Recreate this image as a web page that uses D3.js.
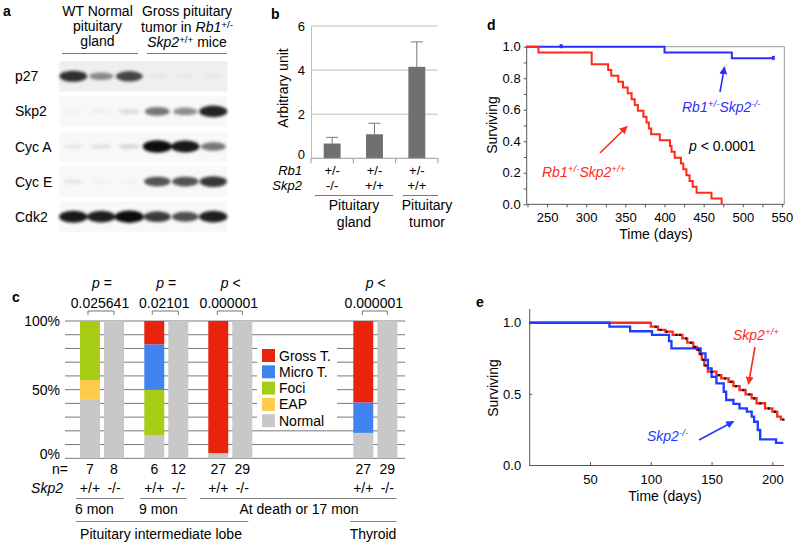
<!DOCTYPE html>
<html><head><meta charset="utf-8">
<script src="https://cdn.jsdelivr.net/npm/d3@7"></script>
<style>body{margin:0;background:#fff} svg{font-family:"Liberation Sans",Arial,Helvetica,sans-serif}</style>
</head><body><svg id="fig" width="800" height="550"></svg>
<script>
// ================= DATA =================
// panel a: western blot band intensities (0..1)
const blotRows = ["p27","Skp2","Cyc A","Cyc E","Cdk2"];
const blotLanes = ["WT1","WT2","WT3","T1","T2","T3"];
const blotP27  = [0.85,0.45,0.75,0.04,0.03,0.03];
const blotSkp2 = [0.03,0.04,0.12,0.55,0.45,0.9];
const blotCycA = [0.07,0.1,0.14,1.0,0.95,0.55];
const blotCycE = [0.08,0.03,0.03,0.7,0.7,0.82];
const blotCdk2 = [0.95,0.92,1.0,0.8,0.72,0.92];
const blotBg   = [0.12,0.06,0.06,0.06,0.06];

// panel b
const bGroups = ["g1","g2","g3"];
const bRb1 = ["+/-","+/-","+/-"];
const bSkp2 = ["-/-","+/+","+/+"];
const bValues = [0.67,1.09,4.15];
const bErrors = [0.28,0.5,1.13];
const bTicks = [0,2,4,6];

// panel c
const cGroups = ["6 mon","6 mon","9 mon","9 mon","death","death","Thyroid","Thyroid"];
const cGeno = ["+/+","-/-","+/+","-/-","+/+","-/-","+/+","-/-"];
const cN = [7,8,6,12,27,29,27,29];
const cNormal = [0.43,1,0.17,1,0.037,1,0.185,1];
const cEAP    = [0.14,0,0,0,0,0,0,0];
const cFoci   = [0.43,0,0.33,0,0,0,0,0];
const cMicro  = [0,0,0.33,0,0,0,0.222,0];
const cGross  = [0,0,0.17,0,0.963,0,0.593,0];
const cCats = ["Gross T.","Micro T.","Foci","EAP","Normal"];
const cColors = ["#e8240c","#3f82f0","#a6cc16","#ffcb4a","#c8c8c8"];
const cPGroups = ["6 mon","9 mon","death","Thyroid"];
const cPRel = ["=","=","<","<"];
const cPVal = ["0.025641","0.02101","0.000001","0.000001"];
const cYTicks = [0,0.5,1];

// panel d: Kaplan-Meier (days, surviving)
const dRedDays = [223,239,307,328,332,341,347,353,358,362,366,373,377,380,383,394,407,409,413,421,424,428,432,436,441,460,473];
const dRedSurv = [1.0,0.963,0.889,0.852,0.815,0.778,0.741,0.704,0.667,0.630,0.593,0.556,0.519,0.481,0.444,0.407,0.370,0.333,0.296,0.259,0.222,0.185,0.148,0.111,0.074,0.037,0.0];
const dBlueDays = [223,400,486,539];
const dBlueSurv = [1.0,0.963,0.926,0.926];
const dBlueCensor = [268,539];
const dXTicks = [250,300,350,400,450,500,550];
const dYTicks = [0,0.2,0.4,0.6,0.8,1.0];

// panel e
const eRedDays = [0,100,106,112,118,126,130,135,138,140,142,144,147,154,158,164,168,173,178,183,187,194,200,204,207,209];
const eRedSurv = [1.0,0.972,0.95,0.937,0.915,0.89,0.86,0.83,0.81,0.78,0.74,0.70,0.656,0.632,0.609,0.585,0.555,0.527,0.497,0.469,0.434,0.398,0.375,0.34,0.32,0.32];
const eBlueDays = [0,66,83,101,115,117,141,145,147,150,154,160,162,168,173,179,183,185,188,190,203,209];
const eBlueSurv = [1.0,0.972,0.94,0.914,0.87,0.82,0.785,0.738,0.679,0.62,0.574,0.515,0.457,0.429,0.398,0.375,0.34,0.304,0.246,0.18,0.155,0.155];
const eRedCensor = [104,108,113,121,124,129,133,136,139,141,143,145,150,156,161,166,170,176,181,185,190,197,202,209];
const eXTicks = [50,100,150,200];
const eYTicks = [0,0.5,1.0];

// ================= DRAW =================
const svg = d3.select("#fig");
const defs = svg.append("defs");
defs.append("filter").attr("id","blur").attr("x","-50%").attr("y","-80%").attr("width","200%").attr("height","260%")
  .append("feGaussianBlur").attr("stdDeviation",1.6);
function marker(id, color){
  defs.append("marker").attr("id",id).attr("viewBox","0 0 10 10").attr("refX",9).attr("refY",5)
    .attr("markerWidth",5).attr("markerHeight",5).attr("orient","auto")
    .append("path").attr("d","M0,0 L10,5 L0,10 z").attr("fill",color);
}
const RED = "#ff2a17", BLUE = "#2d2dff", BLUE2 = "#1f3cff";
marker("arR", RED); marker("arB", BLUE); marker("arB2", BLUE2);

function rich(g, x, y, parts, o){
  const size = o.size || 13;
  const sh = o.shift || 0.33;
  const t = g.append("text").attr("x",x).attr("y",y).attr("font-size",size)
    .attr("fill",o.fill||"#000").attr("text-anchor",o.anchor||"start");
  let up = false;
  parts.forEach(p=>{
    const s = t.append("tspan").text(p.t);
    if (p.i) s.attr("font-style","italic");
    if (p.sup){ s.attr("font-size",size*0.7); if(!up){ s.attr("dy",-size*sh); up=true; } }
    else if (up){ s.attr("dy",size*sh); up=false; }
  });
  return t;
}
function txt(g,x,y,s,o={}){
  return g.append("text").attr("x",x).attr("y",y).attr("font-size",o.size||13)
    .attr("text-anchor",o.anchor||"start").attr("fill",o.fill||"#000")
    .attr("font-style",o.italic?"italic":null).attr("font-weight",o.bold?"bold":null).text(s);
}

// ---------- panel a ----------
{
  const g = svg.append("g");
  txt(g,3,16,"a",{size:14,bold:true});
  [["WT Normal",16],["pituitary",31],["gland",46]].forEach(d=>txt(g,97.5,d[1],d[0],{size:14,anchor:"middle"}));
  txt(g,187,16,"Gross pituitary",{size:14,anchor:"middle"});
  rich(g,187,31.5,[{t:"tumor in "},{t:"Rb1",i:true},{t:"+/-",sup:true}],{size:14,anchor:"middle",shift:0.28});
  rich(g,187,46.5,[{t:"Skp2",i:true},{t:"+/+",sup:true},{t:" mice"}],{size:14,anchor:"middle",shift:0.28});
  g.append("line").attr("x1",62).attr("x2",138).attr("y1",53.5).attr("y2",53.5).attr("stroke","#777");
  g.append("line").attr("x1",147).attr("x2",227).attr("y1",53.5).attr("y2",53.5).attr("stroke","#777");

  const lane = d3.scaleBand().domain(blotLanes).range([59.3,227.3]);
  const row = d3.scaleBand().domain(blotRows).range([61,232]).paddingInner(0.13);
  const rowsData = [blotP27,blotSkp2,blotCycA,blotCycE,blotCdk2];
  blotRows.forEach((r,i)=>{
    g.append("rect").attr("x",lane.range()[0]).attr("y",row(r)).attr("width",lane.range()[1]-lane.range()[0])
      .attr("height",row.bandwidth()).attr("fill",d3.interpolateGreys(blotBg[i]));
    txt(g,15,row(r)+row.bandwidth()/2+5,r,{size:14});
    const cy = row(r)+row.bandwidth()/2;
    g.append("g").attr("filter","url(#blur)").selectAll("ellipse").data(rowsData[i]).join("ellipse")
      .attr("cx",(d,j)=>lane(blotLanes[j])+lane.bandwidth()/2)
      .attr("cy",cy)
      .attr("rx",d=>10+4.5*d).attr("ry",d=>2+4.2*d)
      .attr("fill","#000").attr("opacity",d=>Math.min(1,d*0.95));
  });
}

// ---------- panel b ----------
{
  const g = svg.append("g");
  txt(g,271,19,"b",{size:14,bold:true});
  const y = d3.scaleLinear().domain([0,6]).range([158.3,26]);
  const x = d3.scaleBand().domain(bGroups).range([311,438]).paddingInner(0.6).paddingOuter(0.3);
  g.selectAll(".gl").data(bTicks.filter(t=>t>0)).join("line")
    .attr("x1",311).attr("x2",438).attr("y1",d=>y(d)).attr("y2",d=>y(d)).attr("stroke","#bdbdbd");
  const ax = g.append("g").attr("transform","translate(311,0)")
    .call(d3.axisLeft(y).tickValues(bTicks).tickFormat(d3.format("d")).tickSize(0).tickPadding(6));
  ax.select(".domain").attr("stroke","#bdbdbd");
  ax.selectAll("text").attr("font-size",13).attr("dy",d=>d===0?"0.05em":"0.32em");
  g.selectAll(".bar").data(bValues).join("rect")
    .attr("x",(d,i)=>x(bGroups[i])).attr("width",x.bandwidth())
    .attr("y",d=>y(d)).attr("height",d=>y(0)-y(d)).attr("fill","#707070");
  g.selectAll(".err").data(bValues).join("path")
    .attr("d",(d,i)=>{const cx=x(bGroups[i])+x.bandwidth()/2, t=y(d+bErrors[i]);
      return `M${cx},${y(d)}V${t}M${cx-6},${t}H${cx+6}`;})
    .attr("stroke","#777").attr("stroke-width",1).attr("fill","none");
  g.append("line").attr("x1",311).attr("x2",438).attr("y1",y(0)).attr("y2",y(0)).attr("stroke","#999");
  [0,1,2,3].forEach(k=>{
    const xx = 311 + k*(127/3);
    g.append("line").attr("x1",xx).attr("x2",xx).attr("y1",y(0)).attr("y2",y(0)+5).attr("stroke","#999");
  });
  txt(g,302,175,"Rb1",{size:13,italic:true,anchor:"end"});
  txt(g,302,190,"Skp2",{size:13,italic:true,anchor:"end"});
  bGroups.forEach((k,i)=>{
    const cx = x(k)+x.bandwidth()/2;
    txt(g,cx,175,bRb1[i],{size:13,anchor:"middle"});
    txt(g,cx,190,bSkp2[i],{size:13,anchor:"middle"});
  });
  g.append("line").attr("x1",315).attr("x2",393).attr("y1",195.5).attr("y2",195.5).attr("stroke","#777");
  g.append("line").attr("x1",403).attr("x2",438).attr("y1",195.5).attr("y2",195.5).attr("stroke","#777");
  txt(g,354,210,"Pituitary",{size:14,anchor:"middle"});
  txt(g,354,227,"gland",{size:14,anchor:"middle"});
  txt(g,427,210,"Pituitary",{size:14,anchor:"middle"});
  txt(g,427,227,"tumor",{size:14,anchor:"middle"});
  g.append("text").attr("transform","translate(288,88) rotate(-90)").attr("text-anchor","middle")
    .attr("font-size",14).text("Arbitrary unit");
}

// ---------- panel c ----------
{
  const g = svg.append("g");
  txt(g,12,302,"c",{size:14,bold:true});
  const y = d3.scaleLinear().domain([0,1]).range([458.3,321]);
  const gx = d3.scaleOrdinal().domain(cPGroups).range([80,144.3,208.3,353.3]);
  const xin = d3.scaleBand().domain(["+/+","-/-"]).range([0,44]).paddingInner(0.17);
  const bx = i => gx(cGroups[i]) + xin(cGeno[i]);
  const bw = xin.bandwidth();
  g.selectAll(".grid").data(d3.range(0,11)).join("line")
    .attr("x1",65).attr("x2",405).attr("y1",d=>y(d/10)).attr("y2",d=>y(d/10))
    .attr("stroke","#6a6a6a").attr("stroke-width",0.9);
  g.selectAll(".yl").data(cYTicks).join("text")
    .attr("x",60).attr("y",d=>d===0 ? y(d)+1 : y(d)+5).attr("text-anchor","end").attr("font-size",14)
    .text(d=>d3.format(".0%")(d));
  // stacked bars
  const layers = [cNormal,cEAP,cFoci,cMicro,cGross];
  const layerColors = [cColors[4],cColors[3],cColors[2],cColors[1],cColors[0]];
  cN.forEach((n,i)=>{
    let acc = 0;
    layers.forEach((L,k)=>{
      const v = L[i];
      if (v>0){
        g.append("rect").attr("x",bx(i)).attr("width",bw)
          .attr("y",y(Math.min(1,acc+v))).attr("height",y(acc)-y(Math.min(1,acc+v)))
          .attr("fill",layerColors[k]);
      }
      acc += v;
    });
  });
  // p-value brackets
  cPGroups.forEach((grp,k)=>{
    const i1 = cGroups.indexOf(grp), i2 = i1+1;
    const x1 = bx(i1)+bw/2+(k<2?-2:-1), x2 = bx(i2)+bw/2;
    g.append("path").attr("d",`M${x1},315V311H${x2}V315`).attr("fill","none").attr("stroke","#777");
    const cx = (x1+x2)/2;
    rich(g,cx+1,288,[{t:"p",i:true},{t:" "+cPRel[k]}],{size:14,anchor:"middle"});
    txt(g,cx-1,308,cPVal[k],{size:14,anchor:"middle"});
  });
  // legend
  g.append("rect").attr("x",257).attr("y",347).attr("width",80).attr("height",82).attr("fill","#fff");
  cCats.forEach((c,k)=>{
    const yy = 349 + k*16.3;
    g.append("rect").attr("x",262).attr("y",yy).attr("width",13).attr("height",13).attr("fill",cColors[k]);
    txt(g,279,yy+11.5,c,{size:14});
  });
  // bottom labels
  txt(g,68,474,"n=",{size:14,anchor:"end"});
  txt(g,63,493,"Skp2",{size:14,italic:true,anchor:"end"});
  cN.forEach((n,i)=>{
    txt(g,bx(i)+bw/2,474,String(n),{size:14,anchor:"middle"});
    txt(g,bx(i)+bw/2,493,cGeno[i],{size:14,anchor:"middle"});
  });
  [[76,124.3],[140,186.7],[200,396.7]].forEach(s=>g.append("line").attr("x1",s[0]).attr("x2",s[1]).attr("y1",498.5).attr("y2",498.5).attr("stroke","#888"));
  txt(g,75,514,"6 mon",{size:14});
  txt(g,139,514,"9 mon",{size:14});
  txt(g,299,514,"At death or 17 mon",{size:14,anchor:"middle"});
  [[76,248.3],[350,396.7]].forEach(s=>g.append("line").attr("x1",s[0]).attr("x2",s[1]).attr("y1",521.5).attr("y2",521.5).attr("stroke","#888"));
  txt(g,161,539,"Pituitary intermediate lobe",{size:14,anchor:"middle"});
  txt(g,373,539,"Thyroid",{size:14,anchor:"middle"});
}

// ---------- panel d ----------
{
  const g = svg.append("g");
  txt(g,487,30,"d",{size:14,bold:true});
  const x = d3.scaleLinear().domain([224,553]).range([526.7,784.3]);
  const y = d3.scaleLinear().domain([0,1]).range([204.3,46.7]);
  g.append("path").attr("d",`M${x(224)},${y(1)}H${x(553)}V${y(0)}`).attr("fill","none").attr("stroke","#999");
  const xa = g.append("g").attr("transform",`translate(0,${y(0)})`)
    .call(d3.axisBottom(x).tickValues(dXTicks).tickSize(0).tickPadding(8));
  xa.select(".domain").remove();
  xa.selectAll("text").attr("font-size",13);
  g.append("g").attr("transform",`translate(0,${y(0)})`)
    .call(d3.axisBottom(x).tickValues(d3.range(225,551,25)).tickSize(3).tickFormat(""))
    .call(s=>s.select(".domain").remove()).selectAll("line").attr("stroke","#555");
  const ya = g.append("g").attr("transform",`translate(${x(224)},0)`)
    .call(d3.axisLeft(y).tickValues(dYTicks).tickFormat(d3.format(".1f")).tickSize(0).tickPadding(6));
  ya.select(".domain").remove();
  ya.selectAll("text").attr("font-size",13);
  g.append("g").attr("transform",`translate(${x(224)},0)`)
    .call(d3.axisLeft(y).tickValues(d3.range(0,1.01,0.1)).tickSize(3).tickFormat(""))
    .call(s=>s.select(".domain").remove()).selectAll("line").attr("stroke","#555");
  g.append("path").attr("d",`M${x(224)},${y(1)}V${y(0)}H${x(553)}`).attr("fill","none").attr("stroke","#555");
  const line = d3.line().curve(d3.curveStepAfter).x(d=>x(d[0])).y(d=>y(d[1]));
  g.append("path").datum(dBlueDays.map((d,i)=>[d,dBlueSurv[i]])).attr("d",line)
    .attr("fill","none").attr("stroke",BLUE).attr("stroke-width",2);
  g.append("path").datum(dRedDays.map((d,i)=>[d,dRedSurv[i]])).attr("d",line)
    .attr("fill","none").attr("stroke",RED).attr("stroke-width",2);
  const bstep = d => { let v=dBlueSurv[0]; dBlueDays.forEach((t,i)=>{ if(t<=d) v=dBlueSurv[i]; }); return v; };
  g.selectAll(".cen").data(dBlueCensor).join("rect")
    .attr("x",d=>x(d)-1.5).attr("y",d=>y(bstep(d))-2.5).attr("width",3).attr("height",4).attr("fill",BLUE);
  g.append("text").attr("transform","translate(497,125) rotate(-90)").attr("text-anchor","middle")
    .attr("font-size",14).text("Surviving");
  txt(g,656,239,"Time (days)",{size:14,anchor:"middle"});
  rich(g,682,112,[{t:"Rb1",i:true},{t:"+/-",sup:true,i:true},{t:"Skp2",i:true},{t:"-/-",sup:true,i:true}],{size:14,fill:BLUE});
  g.append("line").attr("x1",720).attr("y1",92).attr("x2",724.5).attr("y2",67).attr("stroke",BLUE).attr("stroke-width",1.6).attr("marker-end","url(#arB)");
  rich(g,689,151,[{t:"p",i:true},{t:" < 0.0001"}],{size:14});
  rich(g,542,177,[{t:"Rb1",i:true},{t:"+/-",sup:true,i:true},{t:"Skp2",i:true},{t:"+/+",sup:true,i:true}],{size:14,fill:RED});
  g.append("line").attr("x1",600).attr("y1",153).attr("x2",627).attr("y2",126.5).attr("stroke",RED).attr("stroke-width",1.6).attr("marker-end","url(#arR)");
}

// ---------- panel e ----------
{
  const g = svg.append("g");
  txt(g,476,307,"e",{size:14,bold:true});
  const x = d3.scaleLinear().domain([0,209]).range([529.2,783.3]);
  const y = d3.scaleLinear().domain([0,1.1]).range([465,308.5]);
  const xa = g.append("g").attr("transform",`translate(0,${y(0)})`)
    .call(d3.axisBottom(x).tickValues(eXTicks).tickSize(-3).tickPadding(10).tickSizeOuter(0));
  xa.select(".domain").attr("stroke","#555");
  xa.selectAll("line").attr("stroke","#555");
  xa.selectAll("text").attr("font-size",13);
  const ya = g.append("g").attr("transform",`translate(${x(0)},0)`)
    .call(d3.axisLeft(y).tickValues(eYTicks).tickFormat(d3.format(".1f")).tickSize(-3).tickPadding(8).tickSizeOuter(0));
  ya.select(".domain").attr("stroke","#555");
  ya.selectAll("line").attr("stroke","#555");
  ya.selectAll("text").attr("font-size",13);
  const line = d3.line().curve(d3.curveStepAfter).x(d=>x(d[0])).y(d=>y(d[1]));
  g.append("path").datum(eRedDays.map((d,i)=>[d,eRedSurv[i]])).attr("d",line)
    .attr("fill","none").attr("stroke",RED).attr("stroke-width",2.3);
  g.append("path").datum(eBlueDays.map((d,i)=>[d,eBlueSurv[i]])).attr("d",line)
    .attr("fill","none").attr("stroke",BLUE2).attr("stroke-width",2.3);
  const rstep = d => { let v=eRedSurv[0]; eRedDays.forEach((t,i)=>{ if(t<=d) v=eRedSurv[i]; }); return v; };
  g.selectAll(".cen").data(eRedCensor).join("rect")
    .attr("x",d=>x(d)-1).attr("y",d=>y(rstep(d))-1).attr("width",2.2).attr("height",2.2).attr("fill","#111");
  g.append("text").attr("transform","translate(498,388) rotate(-90)").attr("text-anchor","middle")
    .attr("font-size",14).text("Surviving");
  txt(g,665,501,"Time (days)",{size:14,anchor:"middle"});
  rich(g,733,340,[{t:"Skp2",i:true},{t:"+/+",sup:true,i:true}],{size:14,fill:RED});
  g.append("line").attr("x1",755).attr("y1",347).attr("x2",748.5).attr("y2",384).attr("stroke",RED).attr("stroke-width",1.6).attr("marker-end","url(#arR)");
  rich(g,647,441,[{t:"Skp2",i:true},{t:"-/-",sup:true,i:true}],{size:14,fill:BLUE2});
  g.append("line").attr("x1",699).attr("y1",440).attr("x2",733.5).attr("y2",421.5).attr("stroke",BLUE2).attr("stroke-width",1.6).attr("marker-end","url(#arB2)");
}
</script></body></html>
